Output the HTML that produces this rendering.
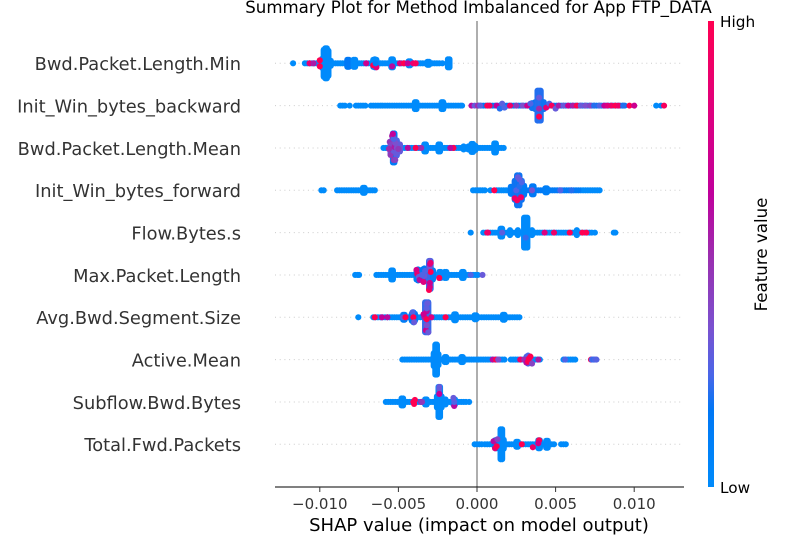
<!DOCTYPE html>
<html lang="en">
<head>
<meta charset="utf-8">
<title>Summary Plot for Method Imbalanced for App FTP_DATA</title>
<style>
html,body{margin:0;padding:0;background:#fff;}
#chart{display:block;width:800px;height:550px;font-family:"DejaVu Sans","Liberation Sans",sans-serif;}
</style>
</head>
<body>
<svg id="chart" xmlns="http://www.w3.org/2000/svg" width="800" height="550" viewBox="0 0 800 550">
<defs>
<linearGradient id="cbGrad" x1="0" y1="1" x2="0" y2="0">
<stop offset="0" stop-color="#008bfb"/>
<stop offset="0.165" stop-color="#0077f5"/>
<stop offset="0.24" stop-color="#4a66e8"/>
<stop offset="0.34" stop-color="#7a52d0"/>
<stop offset="0.49" stop-color="#9a2fb0"/>
<stop offset="0.63" stop-color="#c0009c"/>
<stop offset="0.8" stop-color="#dd0080"/>
<stop offset="1" stop-color="#ff0051"/>
</linearGradient>
</defs>
<text x="478.5" y="13" text-anchor="middle" font-size="16.63" fill="#000">Summary Plot for Method Imbalanced for App FTP_DATA</text>
<g id="rowLines"></g>
<line x1="477" y1="21" x2="477" y2="487" stroke="#999" stroke-width="1.6"/>
<g id="marks"></g>
<g id="yLabels"></g>
<line x1="275" y1="487" x2="684" y2="487" stroke="#000" stroke-width="1"/>
<g id="xTicks"></g>
<text x="479" y="531" text-anchor="middle" font-size="18" fill="#000">SHAP value (impact on model output)</text>
<rect x="708" y="21" width="6" height="466" fill="url(#cbGrad)"/>
<text x="720" y="27" font-size="15.3" fill="#000">High</text>
<text x="720" y="493" font-size="15.3" fill="#000">Low</text>
<text transform="translate(767,254.5) rotate(-90)" text-anchor="middle" font-size="16.67" fill="#000">Feature value</text>
</svg>
<script>
const featureNames = ["Bwd.Packet.Length.Min","Init_Win_bytes_backward","Bwd.Packet.Length.Mean","Init_Win_bytes_forward","Flow.Bytes.s","Max.Packet.Length","Avg.Bwd.Segment.Size","Active.Mean","Subflow.Bwd.Bytes","Total.Fwd.Packets"];
const xTickValues = [-10,-5,0,5,10];
const xTickLabels = ["\u22120.010","\u22120.005","0.000","0.005","0.010"];

/* SHAP values in units of 1e-3.
   Shap = low-feature dots, TintShap = slightly higher feature dots,
   PeakShap/PeakCount/PeakFeature = stacked swarm columns,
   Mix* = individually coloured dots (feature value 0..1, stack level) */
const row0Shap = [-11.7,-10.95,-10.8,-10.65,-10.5,-10.35,-10.2,-10.05,-9.9,-9.3,-9.15,-9,-8.85,-8.7,-8.55,-8.4,-8.25,-8.1,-7.95,-7.8,-7.65,-7.5,-7.35,-7.2,-7.05,-6.9,-6.75,-6.6,-6.45,-6.3,-6.15,-6,-5.85,-5.7,-5.55,-5.4,-5.25,-5.1,-4.95,-4.8,-4.65,-4.5,-4.35,-4.2,-4.05,-3.9,-3.75,-3.6,-3.45,-3.3,-3.15,-3,-2.85,-2.7,-2.55,-2.4,-2.2];
const row0PeakShap = [-9.75,-9.65,-9.55,-9.45,-9.85,-9.3,-8.25,-8.15,-7.85,-7.75,-6.6,-6.5,-6.4,-5.45,-5.35,-4.35,-4.25,-3.15,-3.05,-1.85,-1.75];
const row0PeakCount = [28,31,31,26,10,6,8,8,8,8,8,9,8,9,9,5,5,4,4,9,9];
const row0PeakFeature = [0,0,0,0,0,0,0.15,0.15,0,0,0,0,0,0,0,0,0,0,0,0,0];
const row0TintShap = [];
const row0MixShap = [-10.65,-10.4,-10.0,-10.0,-7.05,-6.6,-6.4,-6.45,-5.4,-4.9,-4.65,-4.4,-4.05,-3.9];
const row0MixFeature = [0.85,0.55,1,1,0.7,1,0.85,0.1,0.6,0.8,1,0.65,0.85,0.95];
const row0MixLevel = [0,0,3,-3,0,2,4,0,3,0,0,0,0,0];

const row1Shap = [-8.7,-8.55,-8.4,-8.1,-7.7,-7.55,-7.4,-7.25,-7.1,-6.75,-6.6,-6.45,-6.3,-6.15,-6,-5.85,-5.7,-5.55,-5.4,-5.25,-5.1,-4.95,-4.8,-4.65,-4.5,-4.35,-4.2,-4.05,-3.9,-3.75,-3.6,-3.45,-3.3,-3.15,-3,-2.85,-2.7,-2.55,-2.4,-2.25,-2.1,-1.95,-1.8,-1.65,-1.5,-1.35,-1.2,-1.05,-0.95,11.4];
const row1TintShap = [0.1,0.25,0.4,0.55,0.7,0.85,1,1.15,1.3,1.45,1.6,1.75,1.9,2.05,2.2,2.35,2.5,2.65,2.8,2.95,3.1,3.25,3.4,3.55,3.7,3.85,4,4.15,4.3,4.45,4.6,4.75,4.9,5.05,5.2,5.35,5.5,5.65,5.8,5.95,6.1,6.25,6.4,6.55,6.7,6.85,7,7.15,7.3,7.45,7.6,7.75,7.9,8.05,8.2,8.35,8.5,8.65,8.8,8.95,9.1,9.25,9.4];
const row1PeakShap = [-3.95,-3.85,-2.25,-2.15,3.5,3.7,3.85,3.95,4.05,4.25];
const row1PeakCount = [8,8,8,8,6,8,31,31,31,8];
const row1PeakFeature = [0,0,0,0,0.18,0.18,0.2,0.2,0.2,0.18];
const row1MixShap = [-0.35,-0.15,0.05,0.2,0.65,0.8,1.25,1.45,1.6,1.75,2.1,2.5,2.9,3.2,3.4,3.95,3.95,3.95,4.4,4.6,4.75,5.0,5.2,5.5,5.8,6.1,6.35,6.6,6.9,7.2,7.45,7.8,8.1,8.3,8.55,8.8,9.0,9.3,9.7,10.0,11.7,11.9];
const row1MixFeature = [0.6,0.3,0.5,0.28,1,0.95,0.65,0.2,0.28,0.24,0.9,0.45,0.35,0.7,0.25,0.3,0.5,1,0.85,0.25,0.95,0.3,0.55,0.3,0.7,0.55,1,0.3,0.35,0.4,0.2,0.25,0.65,0.8,0.9,1,0.9,0.2,1,0.7,0.05,0.95];
const row1MixLevel = [0,0,0,0,0,0,0,3,-2,2,0,0,0,0,-2,-8,3,11,2,-2,0,3,0,0,0,0,0,0,0,0,0,0,0,0,0,0,0,0,0,0,0,0];

const row2Shap = [-5.95,-5.8,-5.65,-5.5,-5.35,-5.2,-5.05,-4.9,-4.75,-4.6,-4.45,-4.3,-4.15,-4,-3.85,-3.7,-3.55,-3.4,-3.25,-3.1,-2.95,-2.8,-2.65,-2.5,-2.35,-2.2,-2.05,-1.9,-1.75,-1.6,-1.45,-1.3,-1.15,-1,-0.85,-0.7,-0.55,-0.4,-0.25,-0.1,0.05,0.2,0.35,0.5,0.65,0.8,0.95,1.1,1.25,1.4,1.55,1.7];
const row2TintShap = [];
const row2PeakShap = [-5.5,-5.35,-5.25,-5.1,-4.9,-3.35,-3.25,-2.45,-2.35,-0.85,-0.55,-0.35,-0.25,-0.1,1.1,1.2];
const row2PeakCount = [14,30,30,16,8,8,8,8,8,4,4,9,9,5,10,10];
const row2PeakFeature = [0.3,0.12,0.12,0.25,0.3,0,0,0,0,0,0,0,0,0,0,0];
const row2MixShap = [-5.55,-5.5,-5.45,-5.4,-5.35,-5.3,-5.3,-5.25,-5.2,-5.15,-5.1,-5.3,-5.3,-5.6,-5.35,-5.2,-5.0,-4.4,-3.9,-3.55,-1.5,-1.7];
const row2MixFeature = [0.45,0.45,0.4,0.55,0.35,0.45,0.3,0.55,0.35,0.3,0.35,0.45,0.25,0.5,0.65,0.4,0.45,0.6,1,0.5,1,0.6];
const row2MixLevel = [-6,7,-3,-12,0,-10,3,-1,-5,5,0,12,-9,1,-14,12,1,0,0,0,0,0];

const row3Shap = [-9.9,-9.75,-8.9,-8.75,-8.6,-8.45,-8.3,-8.15,-8,-7.85,-7.7,-7.55,-7.4,-7.25,-7.1,-6.95,-6.8,-6.65,-6.5,-0.25,-0.1,0.05,0.2,0.35,0.5,0.85,1.25,1.4,1.55,1.7,1.85,2,6.6,6.75,6.9,7.05,7.2,7.35,7.5,7.65,7.8];
const row3TintShap = [3,3.15,3.3,3.45,3.6,3.75,3.9,4.05,4.2,4.35,4.5,4.65,4.8,4.95,5.1,5.25,5.4,5.55,5.7,5.85,6,6.15,6.3,6.45];
const row3PeakShap = [-7.25,-7.15,2.15,2.4,2.55,2.7,2.85,3.0,3.5,3.6,4.35,4.45];
const row3PeakCount = [6,6,8,20,31,31,20,10,9,9,5,5];
const row3PeakFeature = [0,0,0.12,0.18,0.18,0.18,0.18,0.12,0.15,0.15,0.1,0.1];
const row3MixShap = [1.1,2.4,2.55,2.6,2.7,2.8,2.5,2.7,2.85,3.5,5.3,6.0];
const row3MixFeature = [1,0.9,0.95,0.3,0.3,0.9,0.25,0.2,0.25,0.33,0.25,0.2];
const row3MixLevel = [0,8,10,-13,-11,7,0,-4,-8,0,0,0];

const row4Shap = [-0.4,0.4,0.55,0.7,0.85,1,1.15,1.3,1.45,1.6,1.75,1.9,2.05,2.2,2.35,2.5,2.65,2.8,2.95,3.1,3.25,3.4,3.55,3.7,3.85,4,4.15,4.3,4.45,4.6,4.75,4.9,5.05,5.2,5.35,5.5,5.65,5.8,5.95,6.1,6.25,6.4,6.55,6.7,6.85,7,7.15,7.3,7.5,8.7,8.8];
const row4TintShap = [];
const row4PeakShap = [1.5,1.6,2.1,2.6,3.0,3.1,3.2,3.5,6.35];
const row4PeakCount = [9,9,6,6,31,31,31,6,6];
const row4PeakFeature = [0,0,0,0,0,0,0,0,0];
const row4MixShap = [0.65,0.7,1.6,4.3,4.9,5.9,6.7,6.95,3.1];
const row4MixFeature = [1,0.9,0.28,0.8,0.9,1,1,1,0.22];
const row4MixLevel = [0,0,0,0,0,0,0,0,5];

const row5Shap = [-7.75,-7.6,-7.5,-6.4,-6.25,-6.1,-5.95,-5.8,-5.65,-5.5,-5.35,-5.2,-5.05,-4.9,-4.75,-4.6,-4.45,-4.3,-4.15,-4,-3.85,-3.7,-3.55,-3.4,-3.25,-3.1,-2.95,-2.8,-2.65,-2.5,-2.35,-2.2,-2.05,-1.9,-1.75,-1.6,-1.45,-1.3,-1.15,-1,-0.85,-0.7,-0.55,-0.4,-0.25,-0.1,0.05];
const row5TintShap = [];
const row5PeakShap = [-5.45,-5.35,-3.85,-3.75,-3.65,-3.45,-3.35,-3.2,-3.05,-2.95,-2.8,-2.4,-2.3,-2.05,-1.95,-0.95,-0.85];
const row5PeakCount = [10,10,10,12,10,12,14,12,29,29,10,7,7,7,7,7,7];
const row5PeakFeature = [0,0,0.1,0.1,0.1,0.15,0.15,0.15,0.22,0.22,0.1,0,0,0,0,0,0];
const row5MixShap = [-3.85,-3.8,-3.7,-3.65,-3.4,-3.35,-3.05,-3.0,-3.0,-3.0,-3.0,-3.0,-2.95,-3.5,-2.95,-3.3,-2.4,-0.4,0.35];
const row5MixFeature = [0.75,0.85,0.3,0.6,0.8,0.3,1,0.8,0.7,0.35,0.6,0.3,1,0.25,0.85,0.25,1,0.25,0.3];
const row5MixLevel = [-5,-1,2,5,7,1,15,12,8,-8,-11,-14,-3,0,-12,-4,3,0,0];

const row6Shap = [-7.55,-6.6,-6.45,-6.3,-6.15,-6,-5.85,-5.7,-5.55,-5.4,-5.25,-5.1,-4.95,-4.8,-4.65,-4.5,-4.35,-4.2,-4.05,-3.9,-3.75,-3.6,-3.45,-3.3,-3.15,-3,-2.85,-2.7,-2.55,-2.4,-2.25,-2.1,-1.95,-1.8,-1.65,-1.5,-1.35,-1.2,-1.05,-0.9,-0.75,-0.6,-0.45,-0.3,-0.15,0,0.15,0.3,0.45,0.6,0.75,0.9,1.05,1.2,1.35,1.5,1.65,1.8,1.95,2.1,2.25,2.4,2.55,2.7];
const row6TintShap = [];
const row6PeakShap = [-4.7,-4.6,-4.15,-4.05,-3.95,-3.3,-3.2,-3.1,-1.45,-1.35,-0.15,-0.05,1.65,1.75];
const row6PeakCount = [6,6,8,11,8,31,31,31,7,7,5,5,6,6];
const row6PeakFeature = [0.1,0.1,0.15,0.15,0.15,0.22,0.22,0.22,0,0,0,0,0,0];
const row6MixShap = [-6.5,-6.05,-5.7,-4.7,-4.55,-4.1,-4.05,-4.0,-3.35,-3.25,-3.2,-3.2,-3.2,-3.2,-3.15,-3.1,-2.0,-2.9,-3.4,-3.2];
const row6MixFeature = [1,0.65,0.6,0.25,1,0.25,1,0.3,0.55,0.7,0.35,0.25,1,0.6,0.3,0.3,1,0.8,0.7,0.28];
const row6MixLevel = [0,0,0,0,0,-5,0,5,0,13,8,-13,2,-6,-14,15,0,0,-3,-9];

const row7Shap = [-4.75,-4.6,-4.45,-4.3,-4.15,-4,-3.85,-3.7,-3.55,-3.4,-3.25,-3.1,-2.95,-2.8,-2.3,-2.15,-2,-1.85,-1.7,-1.55,-1.4,-1.25,-1.1,-0.95,-0.8,-0.65,-0.5,-0.35,-0.2,-0.05,0.1,0.25,0.4,0.55,0.7,0.85,1,1.15,1.3,1.45,1.6,1.75,2.15,2.3,2.45,2.6,2.8,2.95,3.1,3.25,3.4,3.55,3.7,3.85,4,5.5,5.65,5.8,5.95,6.1,6.25];
const row7TintShap = [];
const row7PeakShap = [-2.75,-2.65,-2.55,-2.45,-2.05,-1.95,-1.0,-0.9,3.15,3.25,3.35];
const row7PeakCount = [14,31,31,12,6,6,6,6,7,9,7];
const row7PeakFeature = [0,0,0,0,0,0,0,0,0.25,0.25,0.25];
const row7MixShap = [1.0,1.2,1.35,2.75,3.0,3.15,3.25,3.3,3.4,3.5,3.9,5.6,7.25,7.3,7.4,7.5,7.6];
const row7MixFeature = [0.6,1,0.35,0.9,0.5,0.6,1,1,1,0.4,0.55,0.25,1,0.25,0.22,0.24,0.26];
const row7MixLevel = [0,0,0,0,0,3,2,-1,-3,4,0,0,0,0,0,0,0];

const row8Shap = [-5.8,-5.65,-5.5,-5.35,-5.2,-5.05,-4.9,-4.75,-4.6,-4.45,-4.3,-4.15,-4,-3.85,-3.7,-3.55,-3.4,-3.25,-3.1,-2.95,-2.8,-2.65,-2.2,-2.05,-1.9,-1.75,-1.6,-1.45,-1.3,-1.15,-1,-0.85,-0.7,-0.5];
const row8TintShap = [];
const row8PeakShap = [-4.8,-4.7,-3.3,-3.2,-2.55,-2.45,-2.35,-2.25,-2.0,-1.5,-1.4];
const row8PeakCount = [8,8,6,6,12,31,31,12,6,6,6];
const row8PeakFeature = [0,0,0,0,0,0,0,0,0,0,0];
const row8MixShap = [-4.05,-4.0,-3.95,-3.55,-3.5,-1.45,-1.45,-1.5,-2.4,-2.4,-2.4];
const row8MixFeature = [1,1,1,0.55,0.45,0.6,0.25,0.3,0.3,0.65,0.3];
const row8MixLevel = [0,2,-2,0,0,4,0,-4,-13,-8,-15];

const row9Shap = [-0.15,0,0.15,0.3,0.5,0.65,0.8,0.95,1.1,1.25,1.9,2.05,2.2,2.35,2.5,2.65,2.8,2.95,3.1,3.25,3.4,3.55,3.7,3.85,4,4.15,4.3,4.45,4.6,4.75,4.9,5.35,5.5,5.65];
const row9TintShap = [];
const row9PeakShap = [1.15,1.25,1.5,1.6,1.7,2.5,2.6,3.9,4.0,4.4,4.5];
const row9PeakCount = [9,9,31,31,10,6,6,9,9,8,8];
const row9PeakFeature = [0.15,0.15,0,0,0,0,0,0,0,0,0];
const row9MixShap = [1.05,1.15,1.25,1.3,2.85,3.55,3.95,3.9];
const row9MixFeature = [0.6,0.85,1,0.4,1,0.9,1,0.75];
const row9MixLevel = [-3,4,2,-5,0,3,-4,-1];

const rowShap = [row0Shap,row1Shap,row2Shap,row3Shap,row4Shap,row5Shap,row6Shap,row7Shap,row8Shap,row9Shap];
const rowTintShap = [row0TintShap,row1TintShap,row2TintShap,row3TintShap,row4TintShap,row5TintShap,row6TintShap,row7TintShap,row8TintShap,row9TintShap];
const rowPeakShap = [row0PeakShap,row1PeakShap,row2PeakShap,row3PeakShap,row4PeakShap,row5PeakShap,row6PeakShap,row7PeakShap,row8PeakShap,row9PeakShap];
const rowPeakCount = [row0PeakCount,row1PeakCount,row2PeakCount,row3PeakCount,row4PeakCount,row5PeakCount,row6PeakCount,row7PeakCount,row8PeakCount,row9PeakCount];
const rowPeakFeature = [row0PeakFeature,row1PeakFeature,row2PeakFeature,row3PeakFeature,row4PeakFeature,row5PeakFeature,row6PeakFeature,row7PeakFeature,row8PeakFeature,row9PeakFeature];
const rowMixShap = [row0MixShap,row1MixShap,row2MixShap,row3MixShap,row4MixShap,row5MixShap,row6MixShap,row7MixShap,row8MixShap,row9MixShap];
const rowMixFeature = [row0MixFeature,row1MixFeature,row2MixFeature,row3MixFeature,row4MixFeature,row5MixFeature,row6MixFeature,row7MixFeature,row8MixFeature,row9MixFeature];
const rowMixLevel = [row0MixLevel,row1MixLevel,row2MixLevel,row3MixLevel,row4MixLevel,row5MixLevel,row6MixLevel,row7MixLevel,row8MixLevel,row9MixLevel];

const SVG_NS = "http://www.w3.org/2000/svg";
function xScale(v){ return 477 + v * 15.72; }
function yScale(i){ return 63.3 + i * 42.33; }

const colorStops = [[0,0,139,251],[0.165,0,119,245],[0.24,74,102,232],[0.34,122,82,208],[0.49,154,47,176],[0.63,192,0,156],[0.8,221,0,128],[1,255,0,81]];
function featureColor(t){
  for(let k=1;k<colorStops.length;k++){
    if(t<=colorStops[k][0]){
      const a=colorStops[k-1], b=colorStops[k], f=(t-a[0])/(b[0]-a[0]);
      return "rgb("+[1,2,3].map(c=>Math.round(a[c]+(b[c]-a[c])*f)).join(",")+")";
    }
  }
  return "rgb(255,0,81)";
}

const marks = document.getElementById("marks");
function addDot(v,i,level,feature){
  const c = document.createElementNS(SVG_NS,"circle");
  c.setAttribute("cx",xScale(v).toFixed(2));
  c.setAttribute("cy",(yScale(i)+level).toFixed(2));
  c.setAttribute("r","3.05");
  c.setAttribute("fill",featureColor(feature));
  
  
  marks.appendChild(c);
}

featureNames.forEach(function(name,i){
  const line = document.createElementNS(SVG_NS,"line");
  line.setAttribute("x1","275");
  line.setAttribute("x2","681");
  line.setAttribute("y1",yScale(i));
  line.setAttribute("y2",yScale(i));
  line.setAttribute("stroke","#ccc");
  line.setAttribute("stroke-width","1");
  line.setAttribute("stroke-dasharray","1 3.7");
  
  
  document.getElementById("rowLines").appendChild(line);

  const t = document.createElementNS(SVG_NS,"text");
  t.setAttribute("x","241");
  t.setAttribute("y",yScale(i)+6.9);
  t.setAttribute("text-anchor","end");
  t.setAttribute("font-size","17.82");
  t.setAttribute("fill","#333");
  
  
  t.textContent = name;
  document.getElementById("yLabels").appendChild(t);

  rowShap[i].forEach(function(v){ addDot(v,i,0,0); });
  rowTintShap[i].forEach(function(v){ addDot(v,i,0,0.13); });
  rowPeakShap[i].forEach(function(v,k){
    const n = rowPeakCount[i][k];
    for(let s=0;s<n;s++){ addDot(v,i,s-(n-1)/2,rowPeakFeature[i][k]); }
  });
  rowMixShap[i].forEach(function(v,k){ addDot(v,i,rowMixLevel[i][k],rowMixFeature[i][k]); });
});

xTickValues.forEach(function(v,k){
  const x = xScale(v);
  const tick = document.createElementNS(SVG_NS,"line");
  tick.setAttribute("x1",x);
  tick.setAttribute("x2",x);
  tick.setAttribute("y1","487");
  tick.setAttribute("y2","492");
  tick.setAttribute("stroke","#333");
  tick.setAttribute("stroke-width","1");
  
  
  document.getElementById("xTicks").appendChild(tick);
  const label = document.createElementNS(SVG_NS,"text");
  label.setAttribute("x",x);
  label.setAttribute("y","509");
  label.setAttribute("text-anchor","middle");
  label.setAttribute("font-size","15");
  label.setAttribute("fill","#333");
  
  
  label.textContent = xTickLabels[k];
  document.getElementById("xTicks").appendChild(label);
});
</script>
</body>
</html>
